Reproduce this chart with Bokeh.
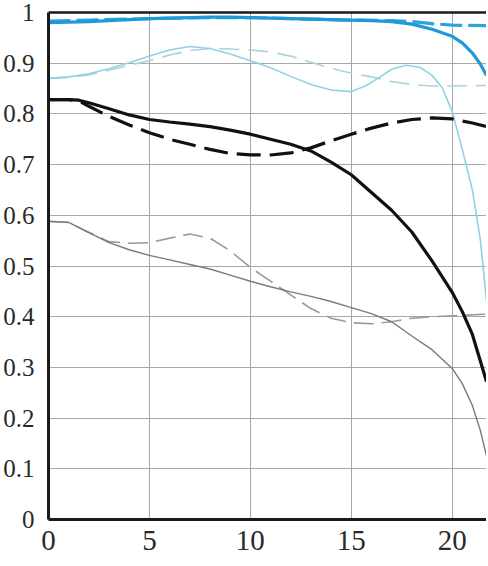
from bokeh.plotting import figure
from bokeh.models import Range1d, FixedTicker, LinearAxis
from bokeh.embed import file_html
from bokeh.resources import INLINE

# ---- data ----
x_ticks = [0, 5, 10, 15, 20]
y_ticks = [0, 0.1, 0.2, 0.3, 0.4, 0.5, 0.6, 0.7, 0.8, 0.9, 1.0]
y_tick_labels = ["0", "0.1", "0.2", "0.3", "0.4", "0.5", "0.6", "0.7", "0.8", "0.9", "1"]

blue_solid_x = [0, 1, 2, 3, 4, 5, 6, 7, 8, 9, 10, 11, 12, 13, 14, 15, 16, 17, 18, 19, 20, 20.5, 21, 21.4, 21.7]
blue_solid_y = [0.980, 0.981, 0.982, 0.984, 0.986, 0.988, 0.989, 0.990, 0.991, 0.991, 0.990, 0.989, 0.988,
                0.987, 0.986, 0.985, 0.984, 0.982, 0.977, 0.967, 0.953, 0.940, 0.920, 0.898, 0.876]

blue_dash_x = [0, 2, 5, 8, 10, 12, 15, 17, 18, 19, 20, 21.7]
blue_dash_y = [0.983, 0.985, 0.988, 0.990, 0.990, 0.988, 0.985, 0.984, 0.982, 0.978, 0.975, 0.974]

cyan_solid_x = [0, 1, 2, 3, 4, 5, 6, 7, 8, 9, 10, 11, 12, 13, 14, 15, 15.7, 16.4, 17, 17.7, 18.4,
                19, 19.5, 20, 20.5, 21, 21.4, 21.7]
cyan_solid_y = [0.870, 0.873, 0.879, 0.889, 0.901, 0.914, 0.926, 0.933, 0.929, 0.918, 0.905, 0.891, 0.874,
                0.858, 0.847, 0.844, 0.855, 0.872, 0.888, 0.896, 0.892, 0.876, 0.852, 0.805, 0.730,
                0.650, 0.550, 0.430]

cyan_dash_x = [0, 1, 2, 3, 4, 5, 6, 7, 8, 9, 10, 11, 12, 13, 14, 15, 16, 17, 18, 19, 20, 21.7]
cyan_dash_y = [0.870, 0.872, 0.877, 0.886, 0.896, 0.905, 0.916, 0.925, 0.929, 0.928, 0.926, 0.922, 0.914,
               0.902, 0.890, 0.880, 0.873, 0.864, 0.858, 0.855, 0.855, 0.856]

black_solid_x = [0, 1, 1.5, 2, 3, 4, 5, 6, 7, 8, 9, 10, 11, 12, 13, 14, 15, 16, 17, 18, 19, 20, 20.5, 21, 21.7]
black_solid_y = [0.828, 0.828, 0.827, 0.822, 0.810, 0.798, 0.789, 0.784, 0.780, 0.775, 0.768, 0.760, 0.750,
                 0.740, 0.727, 0.705, 0.680, 0.645, 0.610, 0.567, 0.510, 0.448, 0.410, 0.365, 0.272]

black_dash_x = [0, 1, 1.5, 2, 3, 4, 5, 6, 7, 8, 9, 10, 11, 12, 13, 14, 15, 16, 17, 18, 19, 20, 21, 21.7]
black_dash_y = [0.828, 0.828, 0.826, 0.815, 0.795, 0.778, 0.763, 0.750, 0.740, 0.730, 0.722, 0.719, 0.719,
                0.723, 0.733, 0.747, 0.760, 0.772, 0.782, 0.789, 0.792, 0.790, 0.782, 0.775]

gray_solid_x = [0, 1, 1.8, 3, 4, 5, 6, 7, 8, 9, 10, 11, 12, 13, 14, 15, 16, 17, 18, 19, 20, 20.5, 21, 21.4, 21.7]
gray_solid_y = [0.588, 0.586, 0.570, 0.546, 0.532, 0.521, 0.512, 0.503, 0.494, 0.482, 0.470, 0.459, 0.449,
                0.440, 0.430, 0.418, 0.406, 0.390, 0.362, 0.335, 0.298, 0.268, 0.225, 0.175, 0.125]

gray_dash_x = [0, 1, 1.8, 3, 4, 5, 6, 7, 8, 9, 10, 11, 12, 13, 14, 15, 16, 17, 18, 19, 20, 21.7]
gray_dash_y = [0.588, 0.586, 0.570, 0.548, 0.545, 0.546, 0.555, 0.563, 0.555, 0.530, 0.497, 0.470, 0.443,
               0.416, 0.397, 0.388, 0.386, 0.390, 0.397, 0.400, 0.402, 0.405]

FONT = "Liberation Sans Narrow"

p = figure(frame_width=438, frame_height=507, output_backend="svg", toolbar_location=None,
           x_range=Range1d(0, 21.7), y_range=Range1d(0, 1),
           min_border_left=42, min_border_top=12, min_border_right=0, min_border_bottom=39)
p.outline_line_color = None
p.background_fill_color = "white"

# grid
p.xaxis.ticker = FixedTicker(ticks=x_ticks)
p.yaxis.ticker = FixedTicker(ticks=y_ticks)
p.yaxis.major_label_overrides = {t: l for t, l in zip(y_ticks, y_tick_labels)}
for g in (p.xgrid, p.ygrid):
    g.grid_line_color = "#a8a8a8"
    g.grid_line_width = 1

for ax in (p.xaxis, p.yaxis):
    ax.axis_line_color = "#1a1a1a"
    ax.axis_line_width = 3
    ax.major_tick_line_color = None
    ax.minor_tick_line_color = None
    ax.major_label_text_font = FONT
    ax.major_label_text_color = "#2a2a2a"
p.yaxis.major_label_text_font_size = "25px"
p.yaxis.major_label_standoff = 8
p.xaxis.major_label_text_font_size = "29px"
p.xaxis.major_label_standoff = 5

top = LinearAxis(ticker=FixedTicker(ticks=[]), axis_line_color="#1a1a1a", axis_line_width=2.5,
                 major_tick_line_color=None, minor_tick_line_color=None)
p.add_layout(top, "above")

# curves
p.line(cyan_dash_x, cyan_dash_y, line_color="#a9d3df", line_width=1.6, line_dash="20 9")
p.line(cyan_solid_x, cyan_solid_y, line_color="#8fd2e6", line_width=1.6)
p.line(gray_dash_x, gray_dash_y, line_color="#9a9a9a", line_width=1.6, line_dash="20 8")
p.line(gray_solid_x, gray_solid_y, line_color="#7a7a7a", line_width=1.4)
p.line(black_dash_x, black_dash_y, line_color="#111111", line_width=3.2, line_dash="24 9")
p.line(black_solid_x, black_solid_y, line_color="#111111", line_width=3.2)
p.line(blue_dash_x, blue_dash_y, line_color="#2ea3dc", line_width=3.2, line_dash="22 6")
p.line(blue_solid_x, blue_solid_y, line_color="#1f9ad6", line_width=3.2)

open("out.html", "w").write(file_html(p, INLINE))
